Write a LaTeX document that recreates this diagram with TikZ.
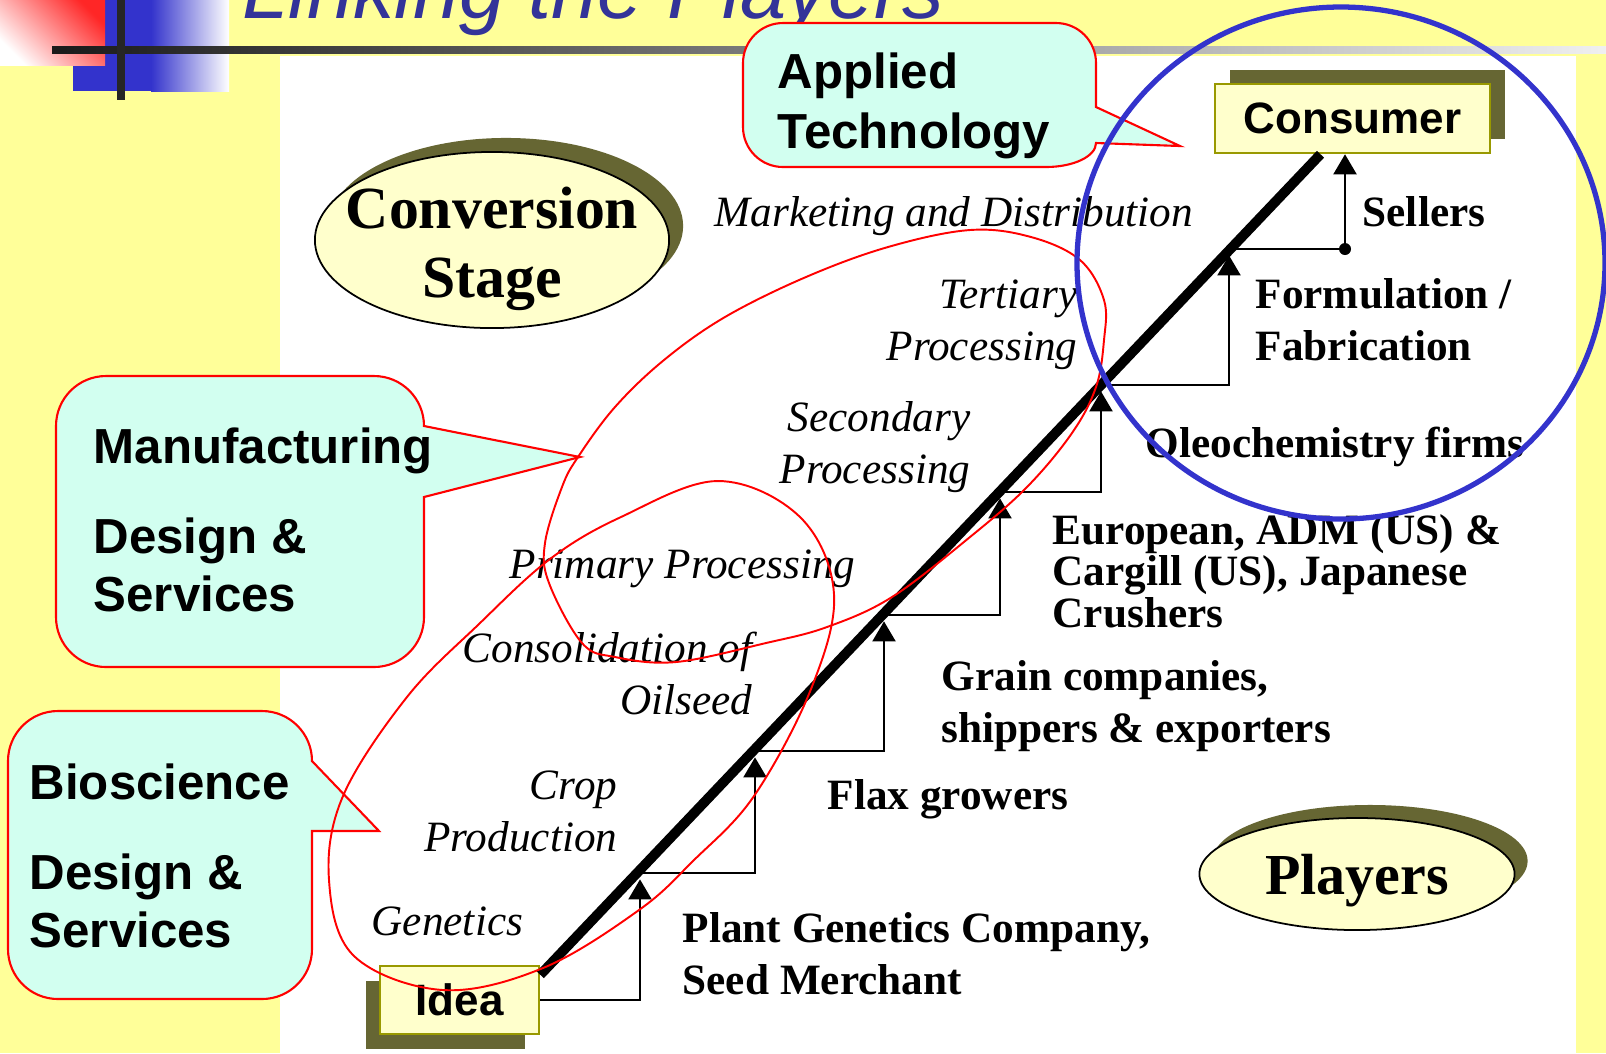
\documentclass[tikz,border=0pt]{standalone}
\usepackage{fontspec}
\setmainfont{Liberation Serif}
\setsansfont{Liberation Sans}
\usetikzlibrary{shapes.geometric}
\usetikzlibrary{shadows}
\usetikzlibrary{positioning}
\usetikzlibrary{arrows.meta}

\definecolor{slideyellow}{RGB}{255,255,153}
\definecolor{bubblecyan}{RGB}{210,255,240}
\definecolor{boxfill}{RGB}{255,255,204}
\definecolor{boxedge}{RGB}{153,153,0}
\definecolor{olivedark}{RGB}{102,102,51}
\definecolor{titleblue}{RGB}{51,51,153}
\definecolor{ringblue}{RGB}{51,51,204}

\tikzset{
    stagebox/.style = {rectangle, draw=boxedge, line width=0.7pt, fill=boxfill, inner sep=0pt, font=\sffamily\bfseries\fontsize{12.5}{15}\selectfont, text=black},
    stageoval/.style = {ellipse, draw=black, line width=0.5pt, fill=boxfill, inner sep=0pt},
    ovaltext/.style = {align=center, inner sep=0pt, text depth=0pt, font=\bfseries\fontsize{17}{19.6}\selectfont},
    bubbleline/.style = {draw=red, line width=0.6pt, fill=bubblecyan},
    bubbletext/.style = {align=left, inner sep=0pt, font=\sffamily\bfseries\fontsize{14}{16.5}\selectfont},
    player/.style = {align=left, inner sep=0pt, font=\bfseries\fontsize{12.3}{14.8}\selectfont},
    phase/.style = {align=right, inner sep=0pt, font=\itshape\fontsize{12.3}{14.8}\selectfont},
    riser/.style = {line width=0.75pt, shorten >=1.8pt, -{Triangle[length=5.7pt,width=6.5pt]}},
    tread/.style = {line width=0.75pt},
    stair/.style = {line width=2.8pt, black},
    loopr/.style = {red, line width=0.55pt},
}

\begin{document}
\begin{tikzpicture}[x=0.01cm,y=-0.01cm]
\useasboundingbox (0,0) rectangle (1606,1053);
% slide background
\fill[slideyellow] (0,0) rectangle (1606,1053);
\fill[white] (280,56) rectangle (1576,1053);
\fill[ringblue] (73,0) rectangle (151,91);
\shade[left color=ringblue, right color=white] (151,0) rectangle (229,91);
\shade[top color=red!85, bottom color=white, shading angle=-45] (0,0) rectangle (105,65);
\shade[left color=black!90, right color=black!6] (52,46) rectangle (1606,53);
\draw[line width=2pt, black!85] (121,0) -- (121,100);
\node[anchor=base west, inner sep=0pt, text=titleblue, font=\sffamily\itshape\fontsize{23.6}{28}\selectfont] (title) at (242,18) {Linking the Players};

% callouts
\filldraw[bubbleline] (106,376) -- (374,376) arc[start angle=-90,end angle=0,radius=50] -- (580,457) -- (424,497) -- (424,617) arc[start angle=0,end angle=90,radius=50] -- (106,667) arc[start angle=90,end angle=180,radius=50] -- (56,426) arc[start angle=180,end angle=270,radius=50] -- cycle;
\filldraw[bubbleline] (58,711) -- (262,711) arc[start angle=-90,end angle=0,radius=50] -- (379,831) -- (312,831) -- (312,949) arc[start angle=0,end angle=90,radius=50] -- (58,999) arc[start angle=90,end angle=180,radius=50] -- (8,761) arc[start angle=180,end angle=270,radius=50] -- cycle;
\filldraw[bubbleline] (783,23) -- (1056,23) arc[start angle=-90,end angle=0,radius=40] -- (1096,107) -- (1180,146) -- (1096,143) arc[start angle=0,end angle=90,x radius=50,y radius=24] -- (783,167) arc[start angle=90,end angle=180,radius=40] -- (743,63) arc[start angle=180,end angle=270,radius=40] -- cycle;
\node[bubbletext, anchor=west] (manu) at (93,520) {Manufacturing\\[9pt]Design \&\\Services};
\node[bubbletext, anchor=west] (bio) at (29,856) {Bioscience\\[9pt]Design \&\\Services};
\node[bubbletext, anchor=west] (applied) at (777,106) {Applied\\[0.5pt]Technology};

% stage ovals and end boxes
\node[stageoval, minimum width=3.54cm, minimum height=1.76cm, drop shadow={shadow xshift=0.14cm, shadow yshift=0.14cm, fill=olivedark, opacity=1}] (conv) at (492,240) {};
\node[ovaltext] (convtext) at (492,242) {Conversion\\Stage};
\node[stageoval, minimum width=3.15cm, minimum height=1.12cm, text depth=0pt, font=\bfseries\fontsize{16.5}{19}\selectfont, drop shadow={shadow xshift=0.13cm, shadow yshift=0.13cm, fill=olivedark, opacity=1}] (players) at (1357,874) {Players};
\node[stagebox, minimum width=1.59cm, minimum height=0.68cm, drop shadow={shadow xshift=-0.14cm, shadow yshift=-0.15cm, fill=olivedark, opacity=1}] (idea) at (459.5,1000) {Idea};
\node[stagebox, minimum width=2.75cm, minimum height=0.69cm, drop shadow={shadow xshift=0.15cm, shadow yshift=0.14cm, fill=olivedark, opacity=1}] (consumer) at (1352.5,118.5) {Consumer};

% players
\node[player, anchor=west] (sellers) at (1362,212) {Sellers};
\node[player, anchor=west] (formul) at (1255,320) {Formulation /\\Fabrication};
\node[player, anchor=west] (oleo) at (1145,447) {Oleochemistry firms};
\node[player, anchor=west, font=\bfseries\fontsize{12.3}{11.8}\selectfont] (crush) at (1052,571) {European, ADM (US) \&\\Cargill (US), Japanese\\Crushers};
\node[player, anchor=west] (grain) at (941,706) {Grain companies,\\shippers \& exporters};
\node[player, anchor=west] (flax) at (827,799) {Flax growers};
\node[player, anchor=west] (seed) at (682,954) {Plant Genetics Company,\\Seed Merchant};

% phases
\node[phase, anchor=west] (market) at (714,216) {Marketing and Distribution};
\node[phase, anchor=east] (tert) at (1078,325) {Tertiary\\Processing};
\node[phase, anchor=east] (second) at (971,447) {Secondary\\Processing};
\node[phase, anchor=west] (primary) at (509,569) {Primary Processing};
\node[phase, anchor=east] (consol) at (753,673) {Consolidation of\\Oilseed};
\node[phase, anchor=east] (crop) at (618,811) {Crop\\Production};
\node[phase, anchor=west] (genet) at (371,921) {Genetics};

% staircase
\coordinate (p1) at (640,873);
\coordinate (p2) at (755,751);
\coordinate (p3) at (884,615);
\coordinate (p4) at (1000,492);
\coordinate (p5) at (1101,385);
\coordinate (p6) at (1229,249);
\coordinate (sl) at (1345,249);
\draw[riser] (idea.east) -| (p1);
\draw[riser] (p1) -| (p2);
\draw[riser] (p2) -| (p3);
\draw[riser] (p3) -| (p4);
\draw[riser] (p4) -| (p5);
\draw[riser] (p5) -| (p6);
\draw[tread] (p6) -- (sl);
\fill (sl) circle[radius=6];
\draw[riser, shorten >=0pt] (sl) -- (sl |- consumer.south);
\draw[stair] ([yshift=-0.1cm]idea.north east) -- ([xshift=-0.32cm]consumer.south);

% red groupings
\draw[loopr] plot[smooth cycle, tension=0.6] coordinates {(578,457) (615,407) (664,360) (725,317) (806,277) (888,247) (970,230) (1031,237) (1080,260) (1104,300) (1104,340) (1096,387) (1072,433) (1027,487) (970,537) (892,597) (827,627) (766,643) (676,662) (615,657) (582,643) (549,583) (545,543) (562,487)};
\draw[loopr] plot[smooth cycle, tension=0.6] coordinates {(718,481) (800,517) (834,594) (811,689) (754,796) (693,861) (639,910) (543,968) (443,990) (354,956) (329,880) (343,796) (407,697) (479,624) (550,559) (621,517)};

% applied technology ring
\draw[ringblue, line width=1.5pt] (1341,263) ellipse[x radius=264, y radius=256];
\end{tikzpicture}
\end{document}
